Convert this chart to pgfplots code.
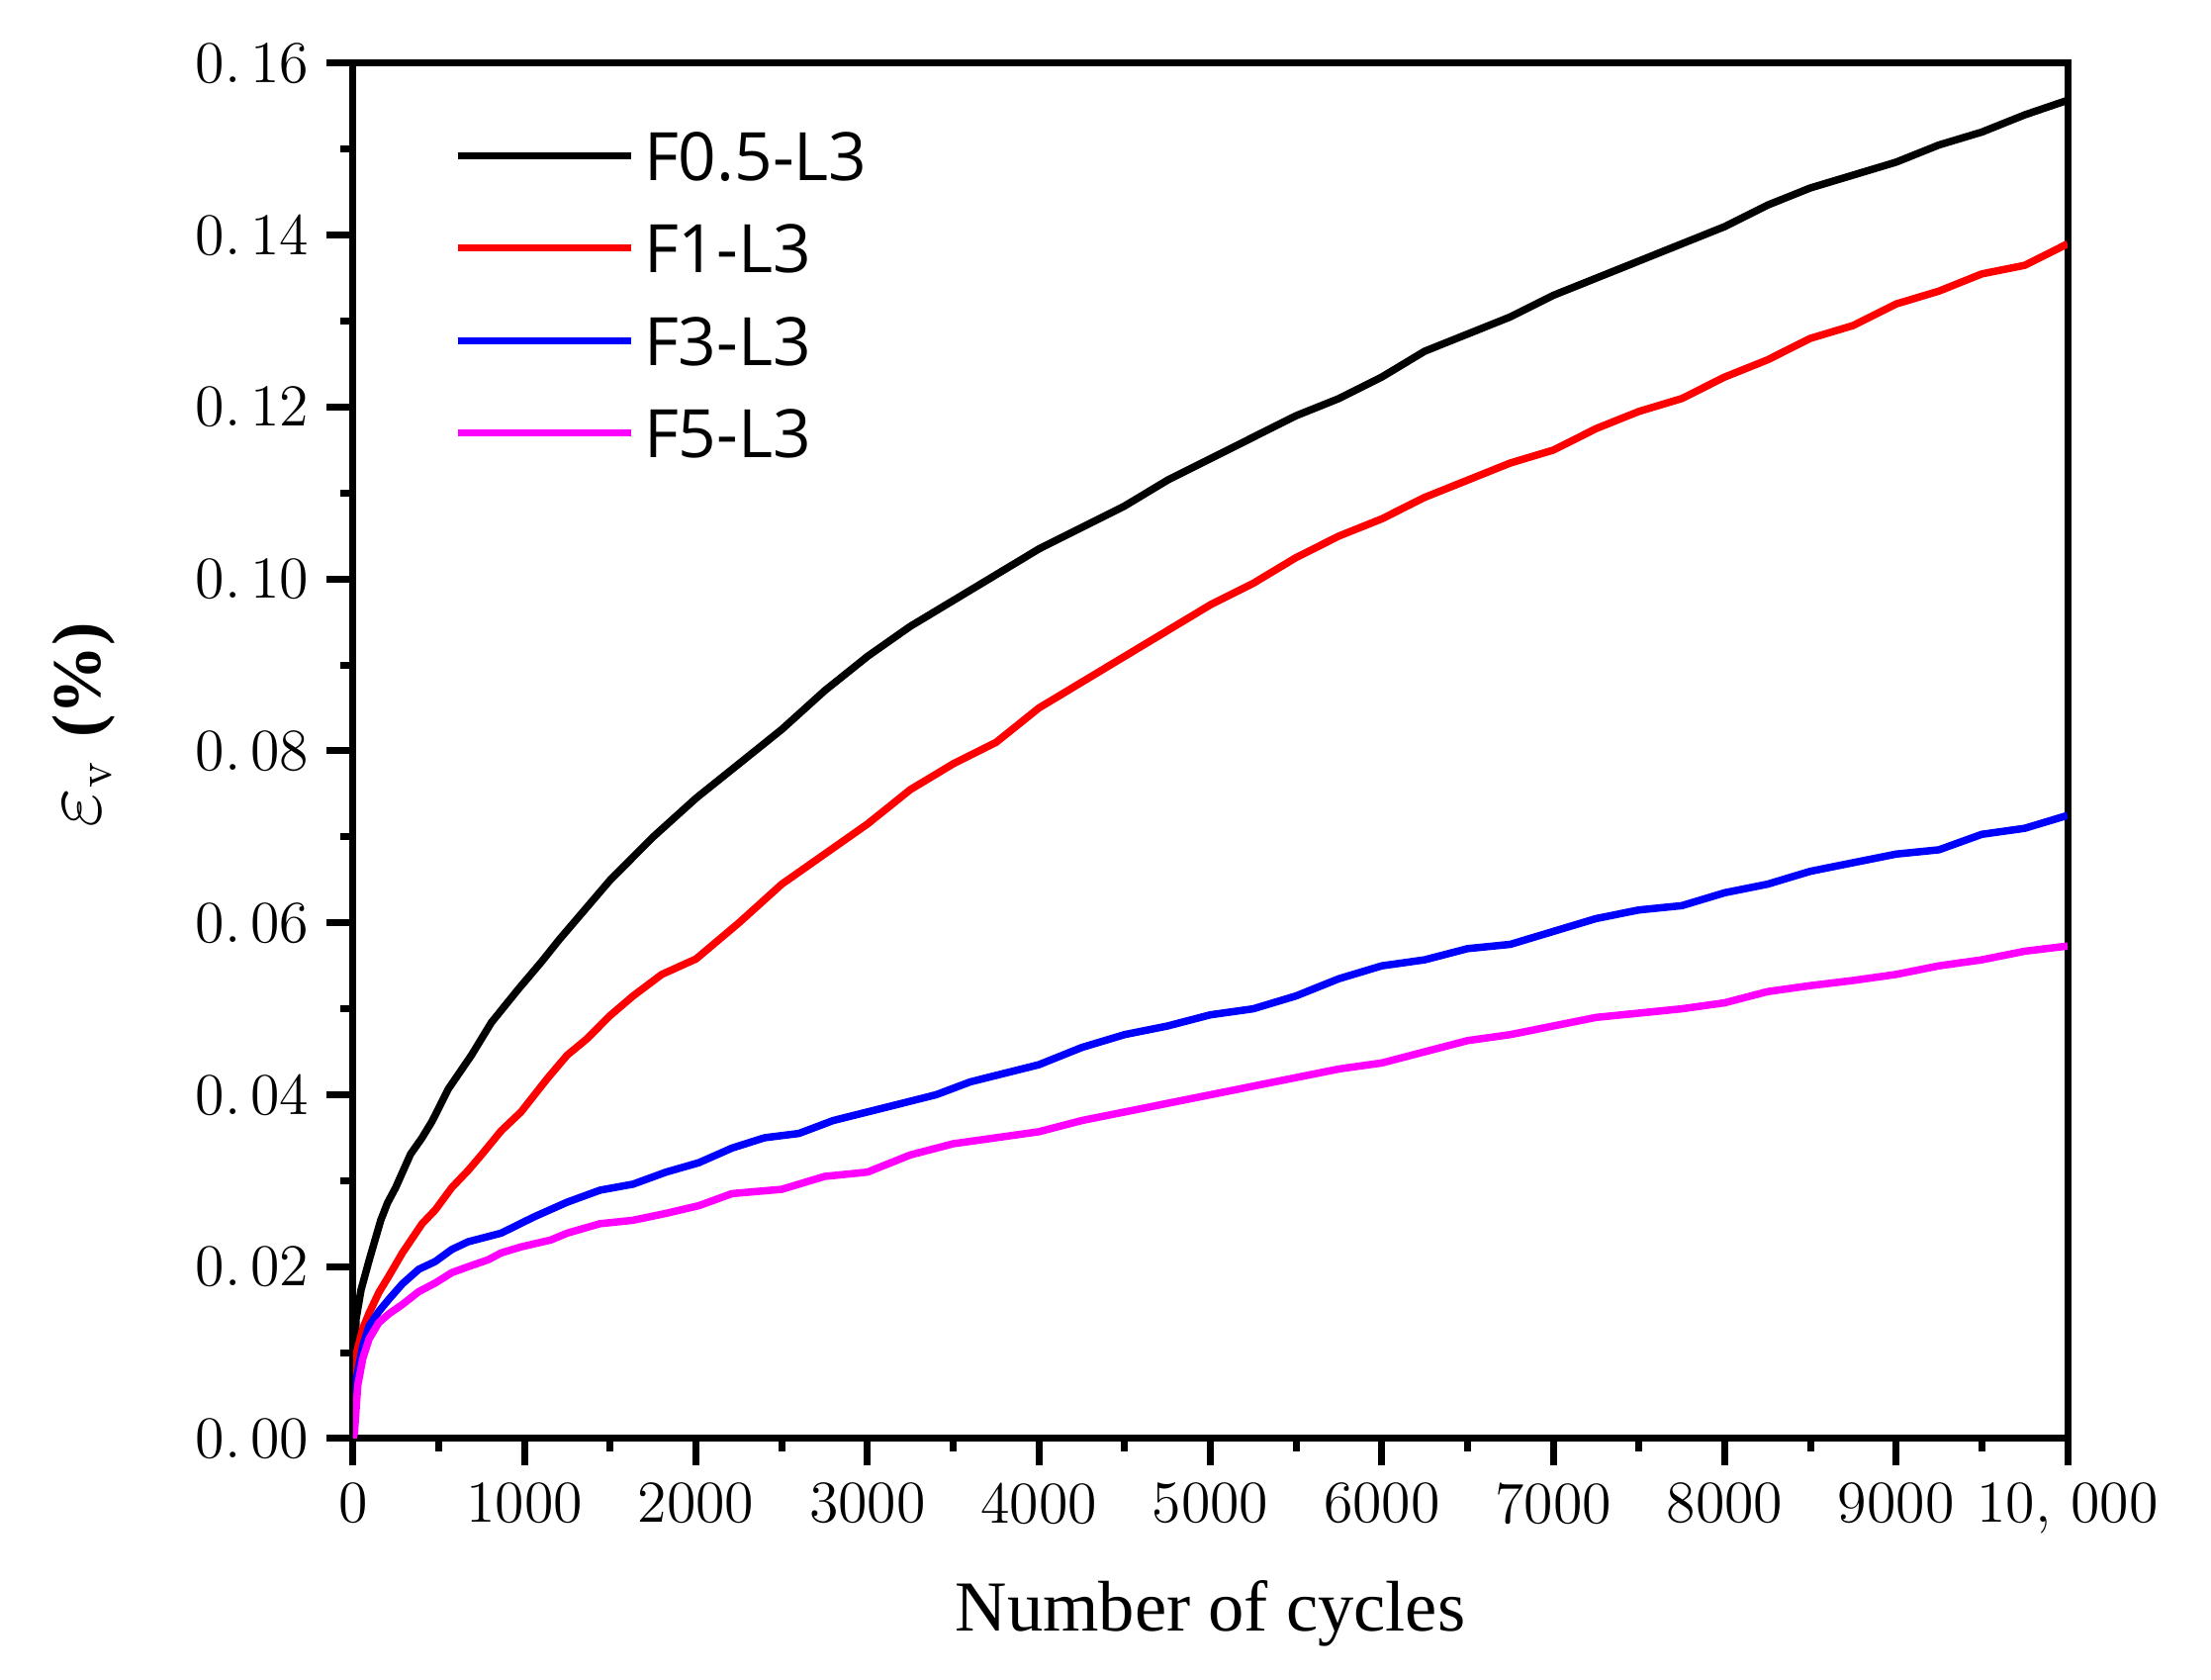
\documentclass[border=0pt]{standalone}
\usepackage{pgfplots}
\pgfplotsset{compat=1.18}
\usepackage{fontspec}
\newfontfamily\legendfont{Open Sans}
\newfontfamily\labelfont{Liberation Serif}

\pgfplotstableread{
x y
0 0
5 0.006
17 0.0139
46 0.0173
94 0.0208
161 0.0254
200 0.0274
248 0.0292
335 0.0331
402 0.035
460 0.0369
556 0.0407
690 0.0446
806 0.0484
960 0.0522
1100 0.0555
1200 0.058
1350 0.0615
1500 0.065
1750 0.070
2000 0.0745
2250 0.0785
2500 0.0825
2750 0.087
3000 0.091
3250 0.0945
3500 0.0975
3750 0.1005
4000 0.1035
4250 0.106
4500 0.1085
4750 0.1115
5000 0.114
5250 0.1165
5500 0.119
5750 0.121
6000 0.1235
6250 0.1265
6500 0.1285
6750 0.1305
7000 0.133
7250 0.135
7500 0.137
7750 0.139
8000 0.141
8250 0.1435
8500 0.1455
8750 0.147
9000 0.1485
9250 0.1505
9500 0.152
9750 0.154
10000 0.1557
}\fhalf

\pgfplotstableread{
x y
0 0
5 0.005
20 0.010
56 0.0128
93 0.0146
150 0.017
208 0.0189
287 0.0216
402 0.025
479 0.0266
575 0.0292
671 0.0312
748 0.033
863 0.0358
979 0.038
1133 0.0419
1248 0.0446
1363 0.0465
1498 0.0492
1633 0.0515
1800 0.054
2000 0.0558
2250 0.060
2500 0.0645
2750 0.068
3000 0.0715
3250 0.0755
3500 0.0785
3750 0.081
4000 0.085
4250 0.088
4500 0.091
4750 0.094
5000 0.097
5250 0.0995
5500 0.1025
5750 0.105
6000 0.107
6250 0.1095
6500 0.1115
6750 0.1135
7000 0.115
7250 0.1175
7500 0.1195
7750 0.121
8000 0.1235
8250 0.1255
8500 0.128
8750 0.1295
9000 0.132
9250 0.1335
9500 0.1355
9750 0.1365
10000 0.139
}\fone

\pgfplotstableread{
x y
0 0
5 0.004
20 0.007
56 0.0108
93 0.0131
150 0.0148
208 0.0162
287 0.018
383 0.0197
479 0.0206
575 0.022
671 0.0229
863 0.0239
1056 0.0258
1248 0.0275
1440 0.0289
1633 0.0296
1825 0.031
2017 0.0321
2210 0.0338
2400 0.035
2600 0.0355
2800 0.037
3000 0.038
3200 0.039
3400 0.040
3600 0.0415
3800 0.0425
4000 0.0435
4250 0.0455
4500 0.047
4750 0.048
5000 0.0493
5250 0.050
5500 0.0515
5750 0.0535
6000 0.055
6250 0.0557
6500 0.057
6750 0.0575
7000 0.059
7250 0.0605
7500 0.0615
7750 0.062
8000 0.0635
8250 0.0645
8500 0.066
8750 0.067
9000 0.068
9250 0.0685
9500 0.0703
9750 0.071
10000 0.0725
}\fthree

\pgfplotstableread{
x y
0 0
8 0.0008
27 0.0062
56 0.0093
93 0.0116
150 0.0135
208 0.0145
287 0.0156
383 0.0171
479 0.0181
575 0.0193
671 0.020
787 0.0208
863 0.0216
979 0.0223
1152 0.0231
1248 0.0239
1440 0.025
1633 0.0254
1825 0.0262
2017 0.0271
2210 0.0285
2500 0.029
2750 0.0305
3000 0.031
3250 0.033
3500 0.0343
3750 0.035
4000 0.0357
4250 0.037
4500 0.038
4750 0.039
5000 0.040
5250 0.041
5500 0.042
5750 0.043
6000 0.0437
6250 0.045
6500 0.0463
6750 0.047
7000 0.048
7250 0.049
7500 0.0495
7750 0.050
8000 0.0507
8250 0.052
8500 0.0527
8750 0.0533
9000 0.054
9250 0.055
9500 0.0557
9750 0.0567
10000 0.0573
}\ffive

\begin{document}
\begin{tikzpicture}
\begin{axis}[
    name=main,
    scale only axis,
    width=346.6pt, height=278pt,
    xmin=0, xmax=10000,
    ymin=0, ymax=0.16,
    axis line style={line width=1.4pt},
    tick style={line width=1.4pt, black},
    tick align=outside,
    xtick pos=bottom, ytick pos=left,
    major tick length=5.4pt,
    minor tick length=2.6pt,
    minor x tick num=1, minor y tick num=1,
    xtick={0,1000,...,10000},
    xticklabels={0,1000,2000,3000,4000,5000,6000,7000,8000,9000,{10, 000}},
    ytick={0,0.02,...,0.16},
    yticklabels={{0.\,00},{0.\,02},{0.\,04},{0.\,06},{0.\,08},{0.\,10},{0.\,12},{0.\,14},{0.\,16}},
    ticklabel style={font=\fontsize{12}{14}\selectfont},
    scaled ticks=false,
    xlabel={Number of cycles},
    xlabel style={font=\labelfont\fontsize{14.5}{17}\selectfont, at={(axis description cs:0.5,-0.1396)}, anchor=base},
    ylabel={{\fontsize{17}{20}\selectfont$\varepsilon$}$_{\mathrm{v}}$ {\labelfont\bfseries(\%)}},
    ylabel style={font=\fontsize{14}{16}\selectfont, at={(axis description cs:-0.157,0.519)}, anchor=center},
    legend cell align=left,
    legend style={draw=none, fill=none, inner sep=0pt, outer sep=0pt,
        at={(axis description cs:0.0589,0.950)}, anchor=north west,
        font=\legendfont\fontsize{13.5}{15}\selectfont,
        row sep=8.9pt, column sep=2pt,
        cells={anchor=base west},
        nodes={inner sep=0pt, outer sep=0pt, text depth=0pt}},
    legend image code/.code={\draw[#1, line width=1.4pt] (0pt,5pt) -- (35pt,5pt);},
    every axis plot/.append style={line width=1.5pt, line join=round},
]
\addplot[black] table[x=x, y=y] {\fhalf};
\addplot[color={rgb,255:red,255;green,0;blue,0}] table[x=x, y=y] {\fone};
\addplot[color={rgb,255:red,0;green,0;blue,255}] table[x=x, y=y] {\fthree};
\addplot[color={rgb,255:red,255;green,0;blue,255}] table[x=x, y=y] {\ffive};
\legend{F0.5-L3,F1-L3,F3-L3,F5-L3}
\end{axis}
\pgfresetboundingbox
\path (main.south west) ++(-71.4pt,-48.8pt) rectangle ([shift={(29pt,12.8pt)}]main.north east);
\end{tikzpicture}
\end{document}
